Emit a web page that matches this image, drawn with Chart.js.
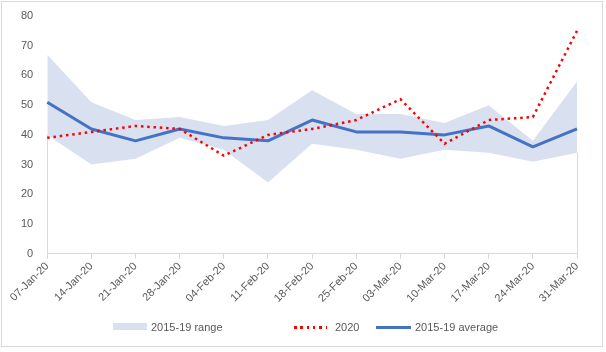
<!DOCTYPE html>
<html>
<head>
<meta charset="utf-8">
<script src="https://cdn.jsdelivr.net/npm/chart.js@4/dist/chart.umd.min.js"></script>
<style>
  body { margin: 0; background: #fff; }
  #wrap { position: relative; width: 606px; height: 352px; font-family: "Liberation Sans", Arial, sans-serif; }
  #frame { position: absolute; left: 1px; top: 1px; width: 602px; height: 346px; box-sizing: border-box; border: 1px solid #d9d9d9; }
  canvas { position: absolute; left: 0; top: 0; }
  .lg { position: absolute; font-size: 11px; color: #595959; line-height: 12px; top: 321px; white-space: nowrap; }
  .sw { position: absolute; }
</style>
</head>
<body>
<div id="wrap">
  <div id="frame"></div>
  <canvas id="chart" width="606" height="352"></canvas>
  <div id="legend"></div>
</div>
<script>
// weekly values
const weeks = ['07-Jan-20', '14-Jan-20', '21-Jan-20', '28-Jan-20', '04-Feb-20', '11-Feb-20', '18-Feb-20',
               '25-Feb-20', '03-Mar-20', '10-Mar-20', '17-Mar-20', '24-Mar-20', '31-Mar-20'];
const rangeLow  = [40, 30, 32, 39, 35, 24, 37, 35, 32, 35, 34, 31, 34];
const rangeHigh = [67, 51, 45, 46, 43, 45, 55, 47, 47, 44, 50, 38, 58];
const values2020 = [39, 41, 43, 42, 33, 40, 42, 45, 52, 37, 45, 46, 75];
const average   = [51, 42, 38, 42, 39, 38, 45, 41, 41, 40, 43, 36, 42];

const rangeColor = '#d9e0f0';
const redColor = '#ff0000';
const blueColor = '#4472c4';
const textColor = '#595959';

// faint edges of the range area, like the original sheet shows
const edgeLines = {
    id: 'edgeLines',
    beforeDatasetsDraw: function(chart) {
        const x = chart.scales.x, y = chart.scales.y, ctx = chart.ctx;
        const last = rangeLow.length - 1;
        ctx.save();
        ctx.strokeStyle = '#d6dbe8';
        ctx.lineWidth = 1;
        ctx.beginPath();
        ctx.moveTo(Math.round(x.getPixelForValue(0)) + 0.5, y.getPixelForValue(rangeLow[0]));
        ctx.lineTo(Math.round(x.getPixelForValue(0)) + 0.5, y.getPixelForValue(0));
        ctx.moveTo(Math.round(x.getPixelForValue(last)) + 0.5, y.getPixelForValue(rangeLow[last]));
        ctx.lineTo(Math.round(x.getPixelForValue(last)) + 0.5, y.getPixelForValue(0));
        ctx.stroke();
        ctx.restore();
    }
};

const ctx = document.getElementById('chart').getContext('2d');
const chart = new Chart(ctx, {
    type: 'line',
    data: {
        labels: weeks,
        datasets: [{
            label: 'low',
            data: rangeLow,
            borderWidth: 0,
            pointRadius: 0,
            fill: false,
            order: 3
        }, {
            label: '2015-19 range',
            data: rangeHigh,
            borderWidth: 0,
            pointRadius: 0,
            backgroundColor: rangeColor,
            fill: '-1',
            order: 2
        }, {
            label: '2020',
            data: values2020,
            borderColor: redColor,
            borderWidth: 2.5,
            borderDash: [2.5, 3.8],
            pointRadius: 0,
            fill: false,
            order: 0
        }, {
            label: '2015-19 average',
            data: average,
            borderColor: blueColor,
            borderWidth: 3,
            borderJoinStyle: 'round',
            pointRadius: 0,
            fill: false,
            order: 1
        }]
    },
    options: {
        responsive: false,
        animation: false,
        devicePixelRatio: 1,
        layout: { padding: { left: 21, right: 29, top: 16, bottom: 46 } },
        plugins: {
            legend: { display: false },
            tooltip: { enabled: false }
        },
        scales: {
            x: {
                grid: { display: true, drawOnChartArea: false, drawTicks: true, tickLength: 5, color: '#d9d9d9' },
                border: { display: true, color: '#d9d9d9' },
                ticks: {
                    minRotation: 45,
                    maxRotation: 45,
                    autoSkip: false,
                    padding: 1,
                    color: textColor,
                    font: { family: 'Liberation Sans', size: 11 }
                }
            },
            y: {
                min: 0,
                max: 80,
                // invisible tick marks give the gap between labels and plot
                grid: { display: true, drawOnChartArea: false, drawTicks: true, tickLength: 14, tickColor: 'rgba(0,0,0,0)' },
                border: { display: false },
                ticks: {
                    stepSize: 10,
                    padding: 0,
                    color: textColor,
                    font: { family: 'Liberation Sans', size: 11 }
                }
            }
        }
    },
    plugins: [edgeLines]
});

// legend laid out like the original sheet
const legendItems = [
    { text: '2015-19 range', swatch: 'left:113px;top:323px;width:34px;height:7px;background:' + rangeColor, textLeft: 151 },
    { text: '2020', swatch: 'left:294px;top:326px;width:33px;height:2.5px;background:repeating-linear-gradient(90deg,' + redColor + ' 0 2.5px,transparent 2.5px 6.3px)', textLeft: 335 },
    { text: '2015-19 average', swatch: 'left:376px;top:326px;width:35px;height:3px;background:' + blueColor, textLeft: 415 }
];
const legend = document.getElementById('legend');
legendItems.forEach(function(item) {
    const sw = document.createElement('div');
    sw.className = 'sw';
    sw.style.cssText = 'position:absolute;' + item.swatch;
    legend.appendChild(sw);
    const t = document.createElement('div');
    t.className = 'lg';
    t.style.left = item.textLeft + 'px';
    t.textContent = item.text;
    legend.appendChild(t);
});
</script>
</body>
</html>
